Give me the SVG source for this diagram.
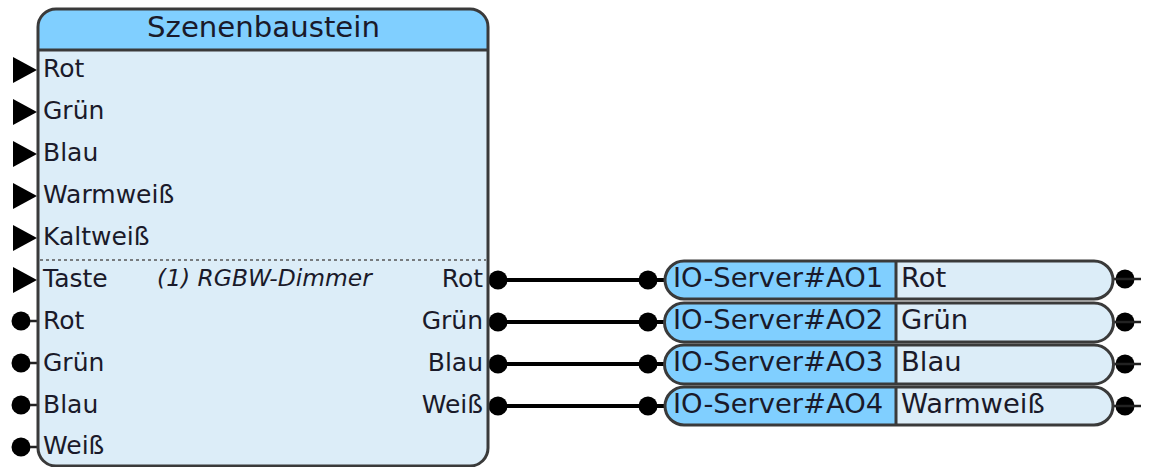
<svg xmlns="http://www.w3.org/2000/svg" width="1154" height="467" viewBox="0 0 1154 467">
<style>
text{font-family:"DejaVu Sans",sans-serif;font-size:25px;fill:#1a1a2a}
.e{text-anchor:end}
.n{font-size:27.4px}
.b{stroke:#3a3a3a;stroke-width:3}
.w{stroke:#000;stroke-width:4;fill:none}
.t{stroke:#222;stroke-width:2.5;fill:none}
.d{fill:#000}
.lo{fill:#dcedf8}
.hi{fill:#80cfff}
</style>
<defs>
<g id="tri"><path class="d" d="M13 -13L37 0L13 13Z"/></g>
<g id="dotL"><circle class="d" cx="21" cy="0" r="9.5"/><path class="t" d="M30 0H38"/></g>
<g id="dotO"><circle class="d" cx="1125" cy="0" r="9.5"/><path class="t" d="M1113 0H1141"/></g>
</defs>
<g id="connectors">
<path class="w" d="M498 280H666"/>
<path class="w" d="M498 322H666"/>
<path class="w" d="M498 364H666"/>
<path class="w" d="M498 406H666"/>
<circle class="d" cx="498" cy="280" r="9.5"/><circle class="d" cx="648" cy="280" r="9.5"/>
<circle class="d" cx="498" cy="322" r="9.5"/><circle class="d" cx="648" cy="322" r="9.5"/>
<circle class="d" cx="498" cy="364" r="9.5"/><circle class="d" cx="648" cy="364" r="9.5"/>
<circle class="d" cx="498" cy="406" r="9.5"/><circle class="d" cx="648" cy="406" r="9.5"/>
</g>
<g id="szenenbaustein">
<use href="#tri" y="70"/><use href="#tri" y="112"/><use href="#tri" y="154"/><use href="#tri" y="196"/><use href="#tri" y="238"/><use href="#tri" y="280"/>
<use href="#dotL" y="321"/><use href="#dotL" y="363"/><use href="#dotL" y="405"/><use href="#dotL" y="447"/>
<path class="lo" d="M38 50H488V448A18 18 0 0 1 470 466H56A18 18 0 0 1 38 448Z"/>
<path class="hi" d="M38 50V27A18 18 0 0 1 56 9H470A18 18 0 0 1 488 27V50Z"/>
<path class="b" fill="none" d="M56 9H470A18 18 0 0 1 488 27V448A18 18 0 0 1 470 466H56A18 18 0 0 1 38 448V27A18 18 0 0 1 56 9Z"/>
<path class="b" d="M38 50H488"/>
<path d="M40 260H486" stroke="#555" stroke-width="1.5" stroke-dasharray="3 3"/>
<text x="263.500" y="37" text-anchor="middle" style="font-size:29.2px">Szenenbaustein</text>
<text x="43" y="77">Rot</text><text x="43" y="119">Grün</text><text x="43" y="161">Blau</text><text x="43" y="203">Warmweiß</text><text x="43" y="245">Kaltweiß</text><text x="43" y="287">Taste</text>
<text x="43" y="329">Rot</text><text x="43" y="371">Grün</text><text x="43" y="413">Blau</text><text x="43" y="454">Weiß</text>
<text x="157" y="286" font-style="italic" style="font-size:23.400px">(1) RGBW-Dimmer</text>
<text class="e" x="483" y="287">Rot</text><text class="e" x="483" y="329">Grün</text><text class="e" x="483" y="371">Blau</text><text class="e" x="483" y="413">Weiß</text>
</g>
<g id="ao1"><use href="#dotO" y="279"/><path class="lo" d="M896 261H1094A19 19 0 0 1 1094 299H896Z"/><path class="hi" d="M896 261H684A19 19 0 0 0 684 299H896Z"/><path class="b" fill="none" d="M684 261H1094A19 19 0 0 1 1094 299H684A19 19 0 0 1 684 261ZM896 261V299"/><text class="n" x="673" y="287">IO-Server#AO1</text><text class="n" x="901" y="287">Rot</text></g>
<g id="ao2"><use href="#dotO" y="322"/><path class="lo" d="M896 303H1094A19 19 0 0 1 1094 342H896Z"/><path class="hi" d="M896 303H684A19 19 0 0 0 684 342H896Z"/><path class="b" fill="none" d="M684 303H1094A19 19 0 0 1 1094 342H684A19 19 0 0 1 684 303ZM896 303V342"/><text class="n" x="673" y="329">IO-Server#AO2</text><text class="n" x="901" y="329">Grün</text></g>
<g id="ao3"><use href="#dotO" y="364"/><path class="lo" d="M896 345H1094A19 19 0 0 1 1094 384H896Z"/><path class="hi" d="M896 345H684A19 19 0 0 0 684 384H896Z"/><path class="b" fill="none" d="M684 345H1094A19 19 0 0 1 1094 384H684A19 19 0 0 1 684 345ZM896 345V384"/><text class="n" x="673" y="371">IO-Server#AO3</text><text class="n" x="901" y="371">Blau</text></g>
<g id="ao4"><use href="#dotO" y="406"/><path class="lo" d="M896 387H1094A19 19 0 0 1 1094 425H896Z"/><path class="hi" d="M896 387H684A19 19 0 0 0 684 425H896Z"/><path class="b" fill="none" d="M684 387H1094A19 19 0 0 1 1094 425H684A19 19 0 0 1 684 387ZM896 387V425"/><text class="n" x="673" y="413">IO-Server#AO4</text><text class="n" x="901" y="413">Warmweiß</text></g>
</svg>
